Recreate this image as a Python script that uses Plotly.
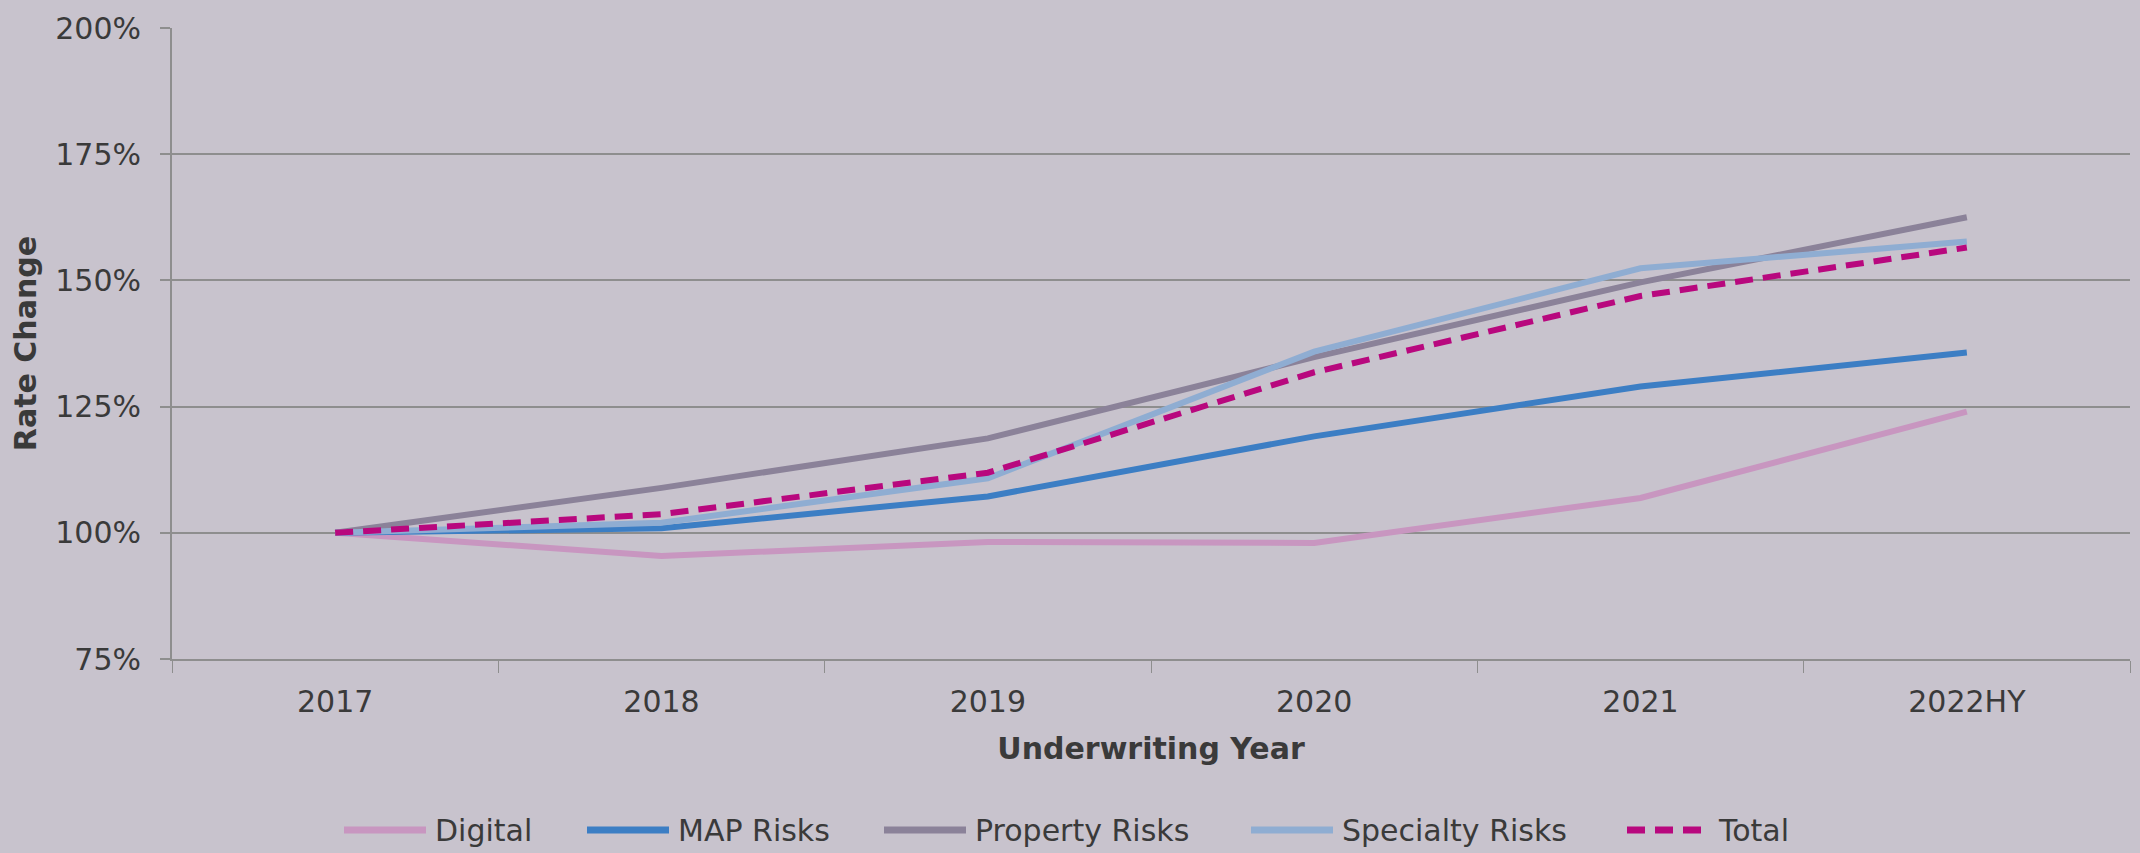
import plotly.graph_objects as go

years = ["2017", "2018", "2019", "2020", "2021", "2022HY"]
digital = [100, 95.4, 98.2, 98.0, 106.9, 124.0]
map_risks = [100, 100.9, 107.2, 119.1, 129.0, 135.7]
property_risks = [100, 108.9, 118.7, 134.8, 149.6, 162.5]
specialty_risks = [100, 102.0, 110.8, 135.9, 152.4, 157.7]
total = [100, 103.7, 111.9, 131.8, 146.9, 156.5]

names = ["Digital", "MAP Risks", "Property Risks", "Specialty Risks", "Total"]
values = [digital, map_risks, property_risks, specialty_risks, total]
colors = ["#C896C0", "#3C7EC4", "#8B8299", "#8FADD2", "#B8087E"]
dashes = ["solid", "solid", "solid", "solid", "18px,10px"]

W, H = 2140, 853
ML, MR, MT, MB = 172, 10, 21, 194
PW, PH = W - ML - MR, H - MT - MB

font_family = "DejaVu Sans"
text_color = "#3A3A3A"
grid_color = "#8E8E8E"
FS = 30

fig = go.Figure()
for name, vals, color, dash in zip(names, values, colors, dashes):
    fig.add_trace(go.Scatter(
        x=years, y=vals, name=name, mode="lines", showlegend=False,
        line=dict(color=color, width=6, dash=dash),
    ))

# custom legend (long line samples like the original)
legend_x = [344, 587, 884, 1251, 1627]  # left edge of each sample line, px
legend_y = 832
sample_len = 82


def px_x(x):
    return (x - ML) / PW


def px_y(y):
    return (MT + PH - y) / PH


shapes = []
annotations = []
for name, color, dash, lx in zip(names, colors, dashes, legend_x):
    shapes.append(dict(
        type="line", xref="paper", yref="paper",
        x0=px_x(lx), x1=px_x(lx + sample_len), y0=px_y(legend_y), y1=px_y(legend_y),
        line=dict(color=color, width=7, dash=dash),
    ))
    annotations.append(dict(
        xref="paper", yref="paper", x=px_x(lx + sample_len + 7), y=px_y(legend_y),
        xanchor="left", yanchor="middle", text=name, showarrow=False,
        font=dict(family=font_family, size=FS, color=text_color),
    ))

fig.update_layout(
    width=W, height=H,
    margin=dict(l=ML, r=MR, t=MT, b=MB),
    paper_bgcolor="#C8C3CD",
    plot_bgcolor="#C8C3CD",
    font=dict(family=font_family, size=FS, color=text_color),
    showlegend=False,
    shapes=shapes,
    annotations=annotations,
    xaxis=dict(
        type="category", range=[-0.5, 5.5],
        showgrid=False, showline=True, linecolor=grid_color, linewidth=2,
        ticks="outside", tickson="boundaries", ticklen=12, tickcolor=grid_color,
        tickwidth=1, ticklabelstandoff=15,
        tickfont=dict(size=FS, color=text_color),
        title=dict(text="<b>Underwriting Year</b>", font=dict(size=FS, color=text_color), standoff=20),
        zeroline=False,
    ),
    yaxis=dict(
        range=[75, 200], tickvals=[75, 100, 125, 150, 175, 200],
        ticktext=["75%", "100%", "125%", "150%", "175%", "200%"],
        showgrid=True, gridcolor=grid_color, gridwidth=2,
        showline=True, linecolor=grid_color, linewidth=2,
        ticks="outside", ticklen=10, tickcolor=grid_color, tickwidth=2,
        ticklabelstandoff=13,
        tickfont=dict(size=FS, color=text_color),
        title=dict(text="<b>Rate Change</b>", font=dict(size=FS, color=text_color), standoff=10),
        zeroline=False,
    ),
)

fig.write_html("out.html")
